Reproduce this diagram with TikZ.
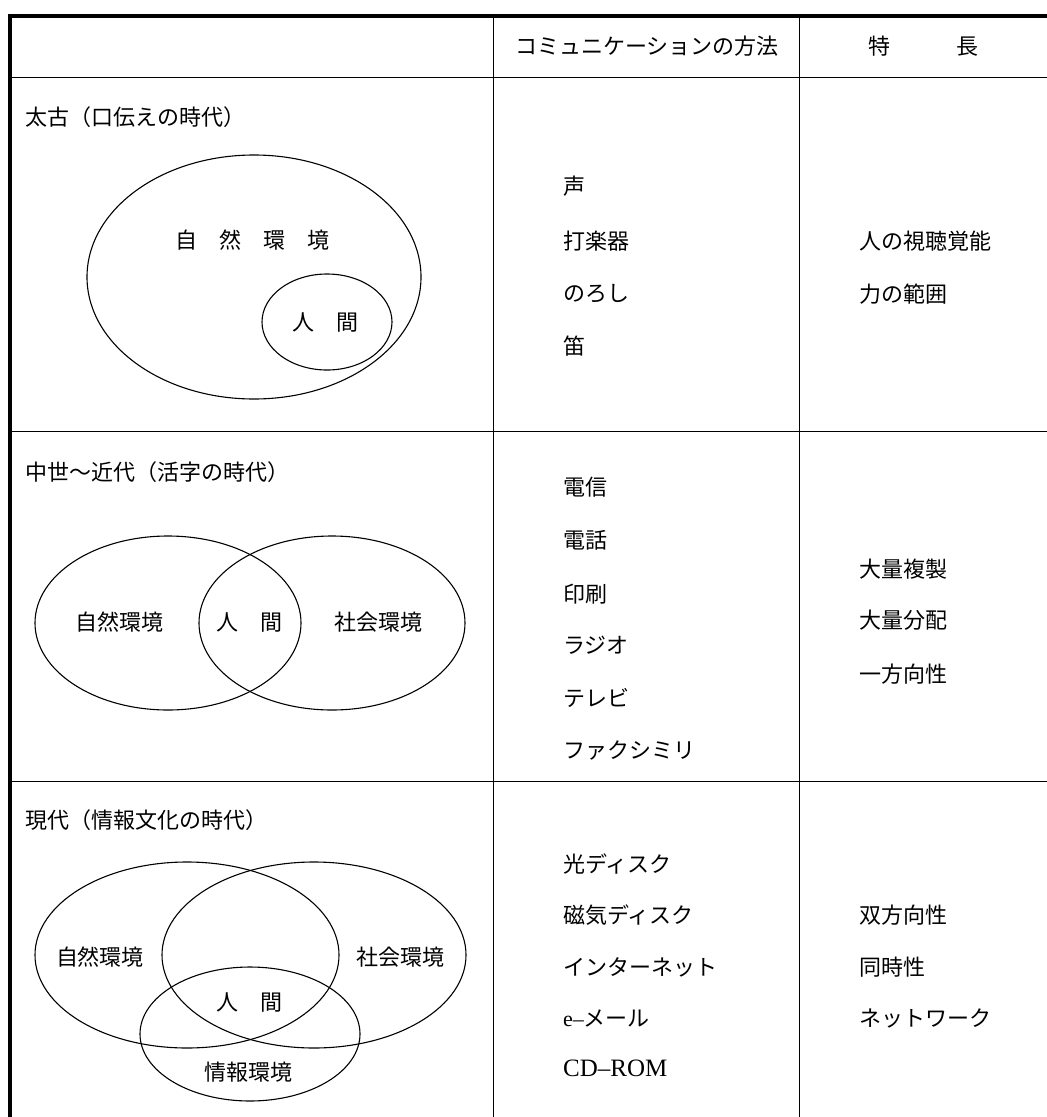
\documentclass[tikz,border=0pt]{standalone}
\usepackage{fontspec}
\setmainfont{Noto Sans CJK JP}
\newfontfamily\latn{Liberation Serif}

\begin{document}
\begin{tikzpicture}[x=1pt,y=-1pt,draw=black,
  every node/.style={font=\fontsize{22pt}{26pt}\selectfont,inner sep=0pt},
  item/.style={anchor=west},
  rule/.style={line width=0.9pt},
  frame/.style={line width=3.2pt},
  venn/.style={line width=1.1pt}]
\useasboundingbox (0,0) rectangle (1047,1117);
\coordinate (tl) at (10,16);
\coordinate (tr) at (1047,16);
\coordinate (bl) at (10,1117);
\draw[rule] (10,77) -- (1047,77);
\draw[rule] (10,431) -- (1047,431);
\draw[rule] (10,781) -- (1047,781);
\draw[rule] (493,16) -- (493,1117);
\draw[rule] (799,16) -- (799,1117);
\draw[frame] (bl) -- (tl) -- (tr);

\node (h2) at (647,46) {コミュニケーションの方法};
\node (h3) at (923,46) {特　　　長};

\node[item] (era1) at (25,117) {太古（口伝えの時代）};
\draw[venn] (254,277) ellipse [x radius=167,y radius=122];
\draw[venn] (327,322) ellipse [x radius=65,y radius=48];
\node (nat1) at (252,240) {自　然　環　境};
\node (hum1) at (325,322) {人　間};

\node[item] (era2) at (25,472) {中世〜近代（活字の時代）};
\draw[venn] (168,623) ellipse [x radius=133,y radius=87];
\draw[venn] (332,623) ellipse [x radius=133,y radius=87];
\node (nat2) at (119,622) {自然環境};
\node (hum2) at (249,622) {人　間};
\node (soc2) at (378,622) {社会環境};

\node[item] (era3) at (25,820) {現代（情報文化の時代）};
\draw[venn] (187,955) ellipse [x radius=152,y radius=93];
\draw[venn] (314,955) ellipse [x radius=152,y radius=93];
\draw[venn] (250,1034) ellipse [x radius=110,y radius=67];
\node (nat3) at (100,957) {自然環境};
\node (soc3) at (400,957) {社会環境};
\node (hum3) at (249,1002) {人　間};
\node (inf3) at (248,1072) {情報環境};

\node[item] (m11) at (563,186) {声};
\node[item] (m12) at (563,241) {打楽器};
\node[item] (m13) at (563,294) {のろし};
\node[item] (m14) at (563,346) {笛};
\node[item] (f11) at (859,241) {人の視聴覚能};
\node[item] (f12) at (859,294) {力の範囲};

\node[item] (m21) at (563,487) {電信};
\node[item] (m22) at (563,540) {電話};
\node[item] (m23) at (563,594) {印刷};
\node[item] (m24) at (563,645) {ラジオ};
\node[item] (m25) at (563,698) {テレビ};
\node[item] (m26) at (563,750) {ファクシミリ};
\node[item] (f21) at (859,569) {大量複製};
\node[item] (f22) at (859,620) {大量分配};
\node[item] (f23) at (859,674) {一方向性};

\node[item] (m31) at (563,864) {光ディスク};
\node[item] (m32) at (563,915) {磁気ディスク};
\node[item] (m33) at (563,967) {インターネット};
\node[item] (m34) at (563,1018) {{\latn e–}メール};
\node[item] (m35) at (563,1068) {{\latn\fontsize{25pt}{28pt}\selectfont CD–ROM}};
\node[item] (f31) at (859,915) {双方向性};
\node[item] (f32) at (859,967) {同時性};
\node[item] (f33) at (859,1018) {ネットワーク};
\end{tikzpicture}
\end{document}
